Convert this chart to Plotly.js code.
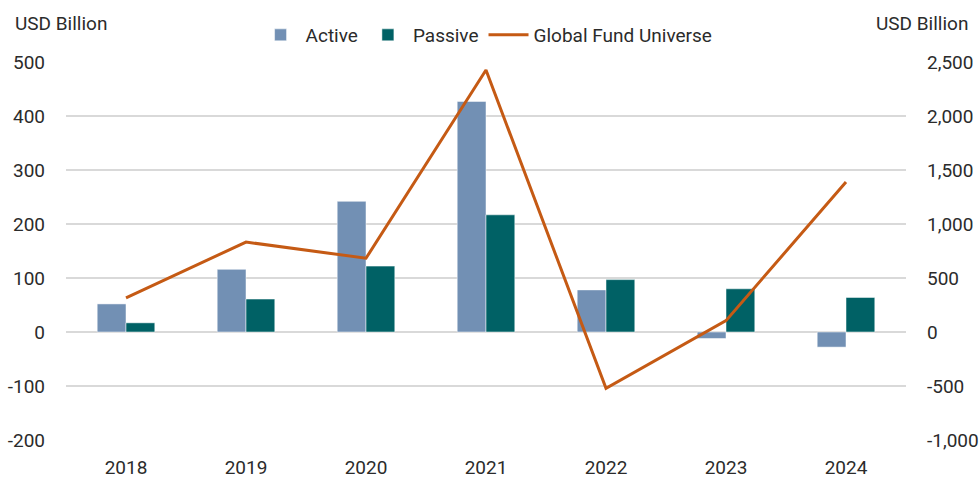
<!DOCTYPE html>
<html>
<head>
<meta charset="utf-8">
<script src="https://cdn.plot.ly/plotly-3.0.1.min.js"></script>
<style>
  html, body { margin: 0; padding: 0; background: #fff; }
  #chart { width: 979px; height: 478px; }
</style>
</head>
<body>
<div id="chart"></div>
<script>
// flows by year, USD billion
const years = ['2018', '2019', '2020', '2021', '2022', '2023', '2024'];
const activeFlows = [52, 116, 242, 427, 78, -12, -28];
const passiveFlows = [17, 61, 122, 217, 97, 80, 64];
const globalUniverse = [315, 833, 683, 2426, -521, 105, 1389];

const leftTicks = [-200, -100, 0, 100, 200, 300, 400, 500];
const rightTicks = [-1000, -500, 0, 500, 1000, 1500, 2000, 2500];
const rightTickText = ['-1,000', '-500', '0', '500', '1,000', '1,500', '2,000', '2,500'];

const FONT = 'Roboto, "Liberation Sans", sans-serif';
const TEXT = '#2b2b2b';
const SIZE = 19;

const traces = [
    {
        x: years, y: activeFlows, name: 'Active', type: 'bar',
        marker: { color: '#7290b4', line: { color: '#ffffff', width: 0.5 } }
    },
    {
        x: years, y: passiveFlows, name: 'Passive', type: 'bar',
        marker: { color: '#006165', line: { color: '#ffffff', width: 0.5 } }
    },
    {
        x: years, y: globalUniverse, name: 'Global Fund Universe',
        type: 'scatter', mode: 'lines', yaxis: 'y2',
        line: { color: '#c55a14', width: 3 }
    }
];

const layout = {
    width: 979,
    height: 478,
    margin: { l: 66, r: 73, t: 62, b: 38, autoexpand: false },
    paper_bgcolor: '#ffffff',
    plot_bgcolor: '#ffffff',
    font: { family: FONT, size: SIZE, color: TEXT },
    barmode: 'group',
    bargap: 0.52,
    bargroupgap: 0,
    showlegend: true,
    legend: {
        orientation: 'h', xref: 'container', yref: 'container',
        x: 0.497, xanchor: 'center', y: 1 - 35 / 478, yanchor: 'middle',
        font: { family: FONT, size: SIZE, color: TEXT },
        itemwidth: 40, traceorder: 'normal'
    },
    xaxis: {
        type: 'category', showgrid: false, zeroline: false, showline: false,
        ticks: '', ticklabelstandoff: 14,
        tickfont: { family: FONT, size: SIZE, color: TEXT }
    },
    yaxis: {
        range: [-200, 500], tickvals: leftTicks, ticktext: leftTicks.map(String),
        showgrid: true, gridcolor: '#d9d9d9', gridwidth: 1.5,
        zeroline: true, zerolinecolor: '#d9d9d9', zerolinewidth: 1.5,
        ticks: '', ticklabelstandoff: 20,
        tickfont: { family: FONT, size: SIZE, color: TEXT }
    },
    yaxis2: {
        overlaying: 'y', side: 'right',
        range: [-1000, 2500], tickvals: rightTicks, ticktext: rightTickText,
        showgrid: false, zeroline: false,
        ticks: '', ticklabelstandoff: 20,
        tickfont: { family: FONT, size: SIZE, color: TEXT }
    },
    annotations: [
        {
            text: 'USD Billion', xref: 'paper', yref: 'paper', x: -0.063, y: 1.103,
            xanchor: 'left', yanchor: 'middle', showarrow: false,
            font: { family: FONT, size: SIZE, color: TEXT }
        },
        {
            text: 'USD Billion', xref: 'paper', yref: 'paper', x: 1.076, y: 1.103,
            xanchor: 'right', yanchor: 'middle', showarrow: false,
            font: { family: FONT, size: SIZE, color: TEXT }
        }
    ]
};

Plotly.newPlot('chart', traces, layout, { displayModeBar: false, staticPlot: true });
</script>
</body>
</html>
